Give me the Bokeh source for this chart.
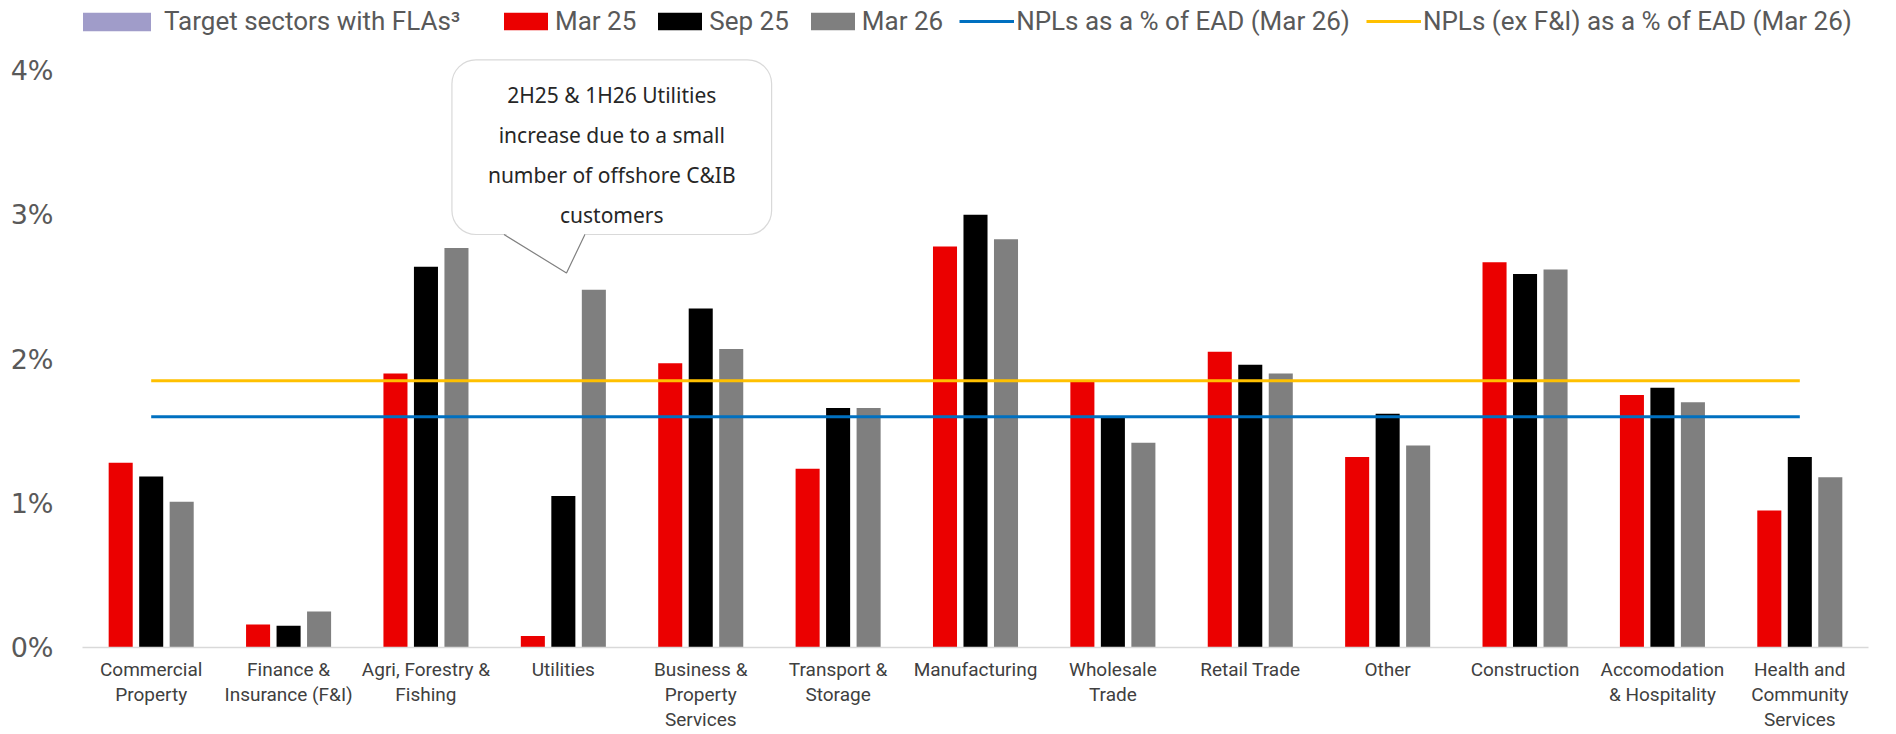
from bokeh.plotting import figure
from bokeh.models import (Range1d, FixedTicker, Legend, LegendItem, BoxAnnotation,
                          Label, ColumnDataSource)
from bokeh.transform import dodge
from bokeh.embed import file_html
from bokeh.resources import INLINE

# ---------------- data ----------------
categories = ["Commercial\nProperty", "Finance &\nInsurance (F&I)", "Agri, Forestry &\nFishing",
              "Utilities", "Business &\nProperty\nServices", "Transport &\nStorage",
              "Manufacturing", "Wholesale\nTrade", "Retail Trade", "Other", "Construction",
              "Accomodation\n& Hospitality", "Health and\nCommunity\nServices"]
mar25 = [1.28, 0.16, 1.90, 0.08, 1.97, 1.24, 2.78, 1.84, 2.05, 1.32, 2.67, 1.75, 0.95]
sep25 = [1.185, 0.15, 2.64, 1.05, 2.35, 1.66, 3.00, 1.60, 1.96, 1.62, 2.59, 1.80, 1.32]
mar26 = [1.01, 0.25, 2.77, 2.48, 2.07, 1.66, 2.83, 1.42, 1.90, 1.40, 2.62, 1.70, 1.18]
series_names = ["Mar 25", "Sep 25", "Mar 26"]
npl_total = 1.60      # NPLs as a % of EAD (Mar 26)
npl_ex_fi = 1.85      # NPLs (ex F&I) as a % of EAD (Mar 26)
y_ticks = [0, 1, 2, 3, 4]
y_tick_labels = ["0%", "1%", "2%", "3%", "4%"]
target_label = "Target sectors with FLAs³"   # legend entry only (no sector shaded)
callout_category = "Utilities"
callout_text = "2H25 & 1H26 Utilities\nincrease due to a small\nnumber of offshore C&IB\ncustomers"

# ---------------- styles ----------------
RED, BLACK, GRAY = "#eb0000", "#000000", "#7f7f7f"
BLUE, YELLOW, PURPLE = "#0070c0", "#ffc000", "#a09cc9"
FONT = "Roboto"

W, H = 1896, 734
idx = list(range(len(categories)))
src = ColumnDataSource(dict(x=idx, mar25=mar25, sep25=sep25, mar26=mar26))

# frame reaches the top of the canvas so that the legends drawn above the bars are not clipped
p = figure(width=W, height=H, output_backend="svg", toolbar_location=None,
           x_range=Range1d(-0.5, len(categories) - 0.5), y_range=Range1d(0, 4.4853),
           min_border_left=82, min_border_right=28, min_border_top=0, min_border_bottom=87)
p.outline_line_color = None
p.xgrid.visible = False
p.ygrid.visible = False
p.background_fill_color = "white"
p.border_fill_color = "white"

off = 0.222
bw = 0.175
r1 = p.vbar(x=dodge("x", -off), top="mar25", width=bw, source=src, fill_color=RED, line_color=None)
r2 = p.vbar(x=dodge("x", 0), top="sep25", width=bw, source=src, fill_color=BLACK, line_color=None)
r3 = p.vbar(x=dodge("x", off), top="mar26", width=bw, source=src, fill_color=GRAY, line_color=None)

first, last = idx[0], idx[-1]
l1 = p.line(x=[first, last], y=[npl_total, npl_total], line_color=BLUE, line_width=3)
l2 = p.line(x=[first, last], y=[npl_ex_fi, npl_ex_fi], line_color=YELLOW, line_width=3)

# legend-only renderer for the "Target sectors" entry (nothing is drawn in the plot)
rp = p.vbar(x=[float("nan")], top=[float("nan")], width=bw, fill_color=PURPLE, line_color=None)

# axes
for ax in (p.xaxis[0], p.yaxis[0]):
    ax.axis_label = None
    ax.axis_label_standoff = 0
    ax.major_tick_out = 0
    ax.major_tick_in = 0
    ax.minor_tick_out = 0
    ax.minor_tick_in = 0
    ax.major_tick_line_color = None
    ax.minor_tick_line_color = None

p.xaxis.ticker = FixedTicker(ticks=idx)
p.xaxis.major_label_overrides = {i: c for i, c in zip(idx, categories)}
p.xaxis.axis_line_color = "#d9d9d9"
p.xaxis.axis_line_width = 1.5
p.xaxis.major_label_text_font = FONT
p.xaxis.major_label_text_font_size = "19px"
p.xaxis.major_label_text_color = "#404040"
p.xaxis.major_label_text_line_height = 1.1
p.xaxis.major_label_standoff = 10

p.yaxis.ticker = FixedTicker(ticks=y_ticks)
p.yaxis.major_label_overrides = {t: s for t, s in zip(y_ticks, y_tick_labels)}
p.yaxis.axis_line_color = None
p.yaxis.major_label_text_font = "DejaVu Sans"
p.yaxis.major_label_text_font_size = "27px"
p.yaxis.major_label_text_color = "#595959"
p.yaxis.major_label_standoff = 29

# callout
ci = categories.index(callout_category)
b_left, b_right, b_bottom, b_top = ci - 0.811, ci + 1.516, 2.863, 4.074
tip_x, tip_y = ci + 0.023, 2.596
base_l, base_r = ci - 0.432, ci + 0.157
box = BoxAnnotation(left=b_left, right=b_right, bottom=b_bottom, top=b_top,
                    fill_color="white", fill_alpha=1, line_color="#808080", line_width=1.2,
                    border_radius=24)
p.add_layout(box)
tail = p.patch(x=[base_l, tip_x, base_r], y=[b_bottom + 0.012, tip_y, b_bottom + 0.012],
               fill_color="white", line_color=None)
tail.level = "overlay"
tail_l = p.line(x=[base_l, tip_x, base_r], y=[b_bottom, tip_y, b_bottom], line_color="#808080",
                line_width=1.2)
tail_l.level = "overlay"
lab = Label(x=(b_left + b_right) / 2, y=(b_top + b_bottom) / 2 - 0.055, text=callout_text,
            text_align="center", text_baseline="middle", text_font="Noto Sans",
            text_font_size="21px", text_line_height=1.42, text_color="#262626")
p.add_layout(lab)

# legends (location = bottom-left corner, offset from the frame's bottom-left)
leg_style = dict(orientation="horizontal", padding=0, margin=0,
                 border_line_color=None, background_fill_alpha=0, label_text_font=FONT,
                 label_text_font_size="26px", label_text_color="#595959")
legA = Legend(items=[LegendItem(label=target_label, renderers=[rp])],
              location=(-8, 611), glyph_width=85, glyph_height=23, label_standoff=5, **leg_style)
legB = Legend(items=[LegendItem(label=series_names[0], renderers=[r1]),
                     LegendItem(label=series_names[1], renderers=[r2]),
                     LegendItem(label=series_names[2], renderers=[r3]),
                     LegendItem(label="NPLs as a % of EAD (Mar 26)", renderers=[l1]),
                     LegendItem(label="NPLs (ex F&I) as a % of EAD (Mar 26)", renderers=[l2])],
              location=(416, 611), glyph_width=55, glyph_height=22, label_standoff=2,
              spacing=16, **leg_style)
p.add_layout(legA)
p.add_layout(legB)

open("out.html", "w").write(file_html(p, INLINE))
